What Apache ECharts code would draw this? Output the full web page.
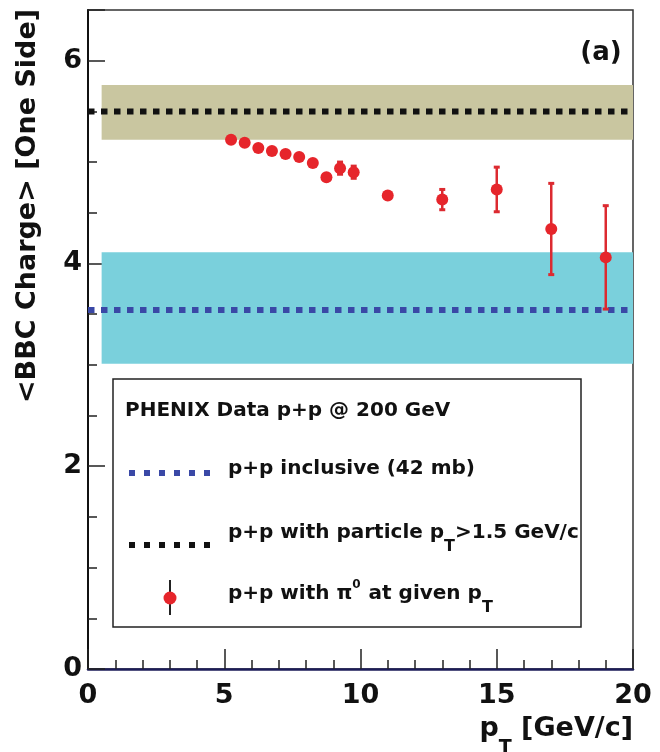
<!DOCTYPE html>
<html>
<head>
<meta charset="utf-8">
<script src="https://cdn.jsdelivr.net/npm/echarts@6/dist/echarts.min.js"></script>
<style>html,body{margin:0;padding:0;background:#fff;}#c{width:660px;height:752px;}</style>
</head>
<body>
<div id="c"></div>
<script>
// ---- data ----
const ptValues   = [5.25, 5.75, 6.25, 6.75, 7.25, 7.75, 8.25, 8.75, 9.25, 9.75, 11, 13, 15, 17, 19];
const bbcCharge  = [5.22, 5.19, 5.14, 5.11, 5.08, 5.05, 4.99, 4.85, 4.94, 4.90, 4.67, 4.63, 4.73, 4.34, 4.06];
const chargeErr  = [0.02, 0.02, 0.02, 0.02, 0.02, 0.02, 0.02, 0.02, 0.06, 0.06, 0.02, 0.10, 0.22, 0.45, 0.51];
const inclusiveMean = [3.54];
const inclusiveBand = [3.01, 4.11];
const highPtMean    = [5.50];
const highPtBand    = [5.22, 5.76];
const bandRangeX    = [0.5, 20];
const lineRangeX    = [0, 20];
const xTicks = [0, 5, 10, 15, 20];
const yTicks = [0, 2, 4, 6];
const legendTitle = 'PHENIX Data p+p @ 200 GeV';
const legendLabels = ['p+p inclusive (42 mb)', 'p+p with particle p_T>1.5 GeV/c', 'p+p with π^0 at given p_T'];
const panelLabel = '(a)';
const xTitle = 'p_T [GeV/c]';
const yTitle = '<BBC Charge> [One Side]';

// ---- styling ----
const FONT = 'DejaVu Sans';
const RED = '#e6252b';
const BAR_RED = '#dc2a30';
const BLUE = '#3a48a6';
const BLACK = '#111111';
const TAN = '#c9c6a0';
const CYAN = '#7ad0dc';
const DASH = [6.5, 6.5];
const LEGEND_DASH = [6, 9];

const chart = echarts.init(document.getElementById('c'), null, {renderer: 'canvas'});

// rich text converter: "a_T" subscripts and "^0" superscripts
function richify(s) {
  return s.replace(/_(\w)/g, '}{sub|$1}{m|').replace(/\^(\w)/g, '}{sup|$1}{m|').replace(/^/, '{m|') + '}';
}

const scatterData = ptValues.map((x, i) => [x, bbcCharge[i], chargeErr[i]]);

const axisLabelStyle = {fontFamily: FONT, fontWeight: 'bold', fontSize: 27, color: BLACK};

const legendX = 113, legendY = 379, legendW = 468, legendH = 248;
const legendRowsY = [469, 533, 594];
const legendLineY = [473, 545];

const legendRich = {
  m:   {fontFamily: FONT, fontWeight: 'bold', fontSize: 20, lineHeight: 44, fill: BLACK, verticalAlign: 'middle'},
  sub: {fontFamily: FONT, fontWeight: 'bold', fontSize: 16, lineHeight: 16, fill: BLACK, verticalAlign: 'bottom'},
  sup: {fontFamily: FONT, fontWeight: 'bold', fontSize: 12, fill: BLACK, verticalAlign: 'middle', padding: [0, 1, 18, 0]}
};

const option = {
  animation: false,
  backgroundColor: '#ffffff',
  grid: {left: 88, right: 27, top: 10, bottom: 83, show: true, borderColor: '#333', borderWidth: 1.5, backgroundColor: 'transparent'},
  xAxis: [{
    type: 'value', min: lineRangeX[0], max: lineRangeX[1], interval: 5,
    axisLine: {show: true, onZero: false, lineStyle: {color: '#1c1c58', width: 2.5}},
    axisTick: {show: true, inside: true, length: 20, lineStyle: {color: '#222', width: 1.5}},
    minorTick: {show: true, splitNumber: 5, length: 9, lineStyle: {color: '#222', width: 1.5}},
    splitLine: {show: false},
    axisLabel: Object.assign({margin: 13, formatter: v => xTicks.indexOf(v) >= 0 ? String(v) : ''}, axisLabelStyle)
  }],
  yAxis: [{
    type: 'value', min: 0, max: 6.5, interval: 2, position: 'left',
    axisLine: {show: true, onZero: false, lineStyle: {color: '#111', width: 2}},
    axisTick: {show: true, inside: true, length: 17, lineStyle: {color: '#222', width: 1.5}},
    splitLine: {show: false},
    axisLabel: Object.assign({margin: 6, formatter: v => yTicks.indexOf(v) >= 0 ? String(v) : ''}, axisLabelStyle)
  }, {
    type: 'value', min: 0, max: 6.5, interval: 0.5, position: 'left',
    axisLine: {show: false},
    axisTick: {show: true, inside: true, length: 9, lineStyle: {color: '#222', width: 1.5}},
    splitLine: {show: false},
    axisLabel: {show: false}
  }],
  series: [
    {
      type: 'line', data: [], z: 1,
      markArea: {silent: true, itemStyle: {color: TAN, opacity: 1}, data: [[{xAxis: bandRangeX[0], yAxis: highPtBand[0]}, {xAxis: bandRangeX[1], yAxis: highPtBand[1]}]]}
    },
    {
      type: 'line', data: [], z: 1,
      markArea: {silent: true, itemStyle: {color: CYAN, opacity: 1}, data: [[{xAxis: bandRangeX[0], yAxis: inclusiveBand[0]}, {xAxis: bandRangeX[1], yAxis: inclusiveBand[1]}]]}
    },
    {
      type: 'line', z: 3, symbol: 'none', silent: true,
      data: lineRangeX.map(x => [x, highPtMean[0]]),
      lineStyle: {color: BLACK, width: 6, type: DASH, cap: 'butt'}
    },
    {
      type: 'line', z: 3, symbol: 'none', silent: true,
      data: lineRangeX.map(x => [x, inclusiveMean[0]]),
      lineStyle: {color: BLUE, width: 6, type: DASH, cap: 'butt'}
    },
    {
      type: 'custom', z: 4, silent: true,
      data: scatterData,
      encode: {x: 0, y: 1},
      renderItem: function (params, api) {
        const x = api.value(0), y = api.value(1), e = api.value(2);
        const t = api.coord([x, y + e]);
        const b = api.coord([x, y - e]);
        return {type: 'group', children: [
          {type: 'line', shape: {x1: t[0], y1: t[1], x2: b[0], y2: b[1]}, style: {stroke: BAR_RED, lineWidth: 2.5}},
          {type: 'line', shape: {x1: t[0] - 3, y1: t[1], x2: t[0] + 3, y2: t[1]}, style: {stroke: BAR_RED, lineWidth: 3}},
          {type: 'line', shape: {x1: b[0] - 3, y1: b[1], x2: b[0] + 3, y2: b[1]}, style: {stroke: BAR_RED, lineWidth: 3}}
        ]};
      }
    },
    {
      type: 'scatter', z: 5, silent: true,
      data: scatterData.map(d => [d[0], d[1]]),
      symbol: 'circle', symbolSize: 12,
      itemStyle: {color: RED, opacity: 1}
    }
  ],
  graphic: [
    // panel label
    {type: 'text', x: 601, y: 53, z: 10, style: {text: panelLabel, fontFamily: FONT, fontWeight: 'bold', fontSize: 26, fill: BLACK, align: 'center', verticalAlign: 'middle'}},
    // y title
    {type: 'text', x: 28, y: 206, rotation: Math.PI / 2, z: 10,
      style: {text: yTitle, fontFamily: FONT, fontWeight: 'bold', fontSize: 27, fill: BLACK, align: 'center', verticalAlign: 'middle'}},
    // x title
    {type: 'text', x: 633, y: 729, z: 10,
      style: {text: richify(xTitle), align: 'right', verticalAlign: 'middle',
        rich: {
          m:   {fontFamily: FONT, fontWeight: 'bold', fontSize: 27, lineHeight: 58, fill: BLACK, verticalAlign: 'middle'},
          sub: {fontFamily: FONT, fontWeight: 'bold', fontSize: 19, lineHeight: 19, fill: BLACK, verticalAlign: 'bottom'}
        }}},
    // legend box
    {type: 'rect', z: 10, shape: {x: legendX, y: legendY, width: legendW, height: legendH},
      style: {fill: '#ffffff', stroke: '#222', lineWidth: 1.5}},
    {type: 'text', z: 11, x: 125, y: 411,
      style: {text: legendTitle, fontFamily: FONT, fontWeight: 'bold', fontSize: 20, fill: BLACK, align: 'left', verticalAlign: 'middle'}},
    {type: 'line', z: 11, shape: {x1: 129, y1: legendLineY[0], x2: 210, y2: legendLineY[0]},
      style: {stroke: BLUE, lineWidth: 6, lineDash: LEGEND_DASH}},
    {type: 'line', z: 11, shape: {x1: 129, y1: legendLineY[1], x2: 210, y2: legendLineY[1]},
      style: {stroke: BLACK, lineWidth: 6, lineDash: LEGEND_DASH}},
    {type: 'line', z: 11, shape: {x1: 170, y1: 580, x2: 170, y2: 615}, style: {stroke: '#222', lineWidth: 2}},
    {type: 'circle', z: 12, shape: {cx: 170, cy: 598, r: 6.5}, style: {fill: RED}},
    ...legendLabels.map((s, i) => ({
      type: 'text', z: 11, x: 228, y: legendRowsY[i],
      style: {text: richify(s), align: 'left', verticalAlign: 'middle', rich: legendRich}
    }))
  ]
};

chart.setOption(option);
</script>
</body>
</html>
